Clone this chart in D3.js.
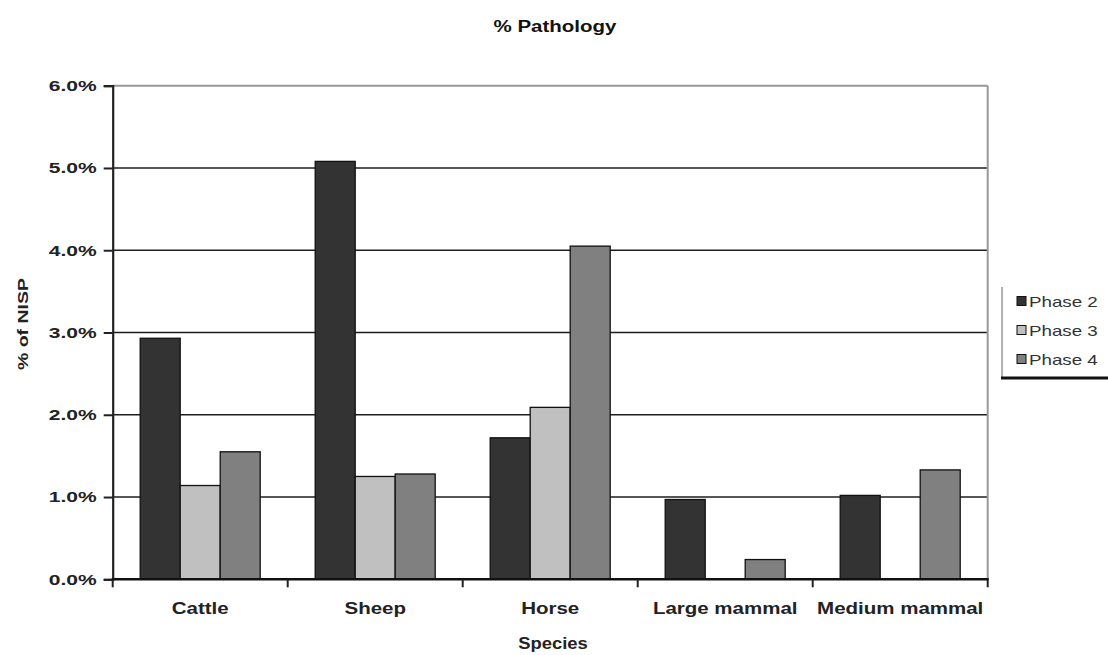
<!DOCTYPE html>
<html>
<head>
<meta charset="utf-8">
<script src="https://cdn.jsdelivr.net/npm/d3@7"></script>
<style>
  html, body { margin: 0; padding: 0; background: #fff; }
  svg { display: block; font-family: "Liberation Sans", Arial, sans-serif; }
</style>
</head>
<body>
<svg id="chart" width="1108" height="655"></svg>
<script>
// Percentage of NISP showing pathology, by species and phase
const categories = ["Cattle", "Sheep", "Horse", "Large mammal", "Medium mammal"];
const seriesNames = ["Phase 2", "Phase 3", "Phase 4"];
const phase2 = [2.93, 5.08, 1.72, 0.97, 1.02];
const phase3 = [1.14, 1.25, 2.09, null, null];
const phase4 = [1.55, 1.28, 4.05, 0.24, 1.33];
const yTicks = [0, 1, 2, 3, 4, 5, 6];
const yTickLabels = ["0.0%", "1.0%", "2.0%", "3.0%", "4.0%", "5.0%", "6.0%"];
const seriesColors = ["#333333", "#c0c0c0", "#808080"];

const seriesValues = [phase2, phase3, phase4];

const svg = d3.select("#chart");
const plot = { left: 112.7, right: 987.7, top: 85.7, bottom: 579.3 };

// Widen a text element horizontally by a factor, keeping its anchor
function stretch(sel, factor) {
  sel.each(function () {
    const w = this.getComputedTextLength();
    if (w > 0) {
      d3.select(this)
        .attr("textLength", w * factor)
        .attr("lengthAdjust", "spacingAndGlyphs");
    }
  });
}

const gapRatio = 55 / 175;
const x0 = d3.scaleBand()
  .domain(categories)
  .range([plot.left, plot.right])
  .paddingInner(gapRatio)
  .paddingOuter(gapRatio / 2);

const x1 = d3.scaleBand()
  .domain(seriesNames)
  .range([0, x0.bandwidth()]);

const y = d3.scaleLinear()
  .domain([0, 6])
  .range([plot.bottom, plot.top]);

// Horizontal gridlines
const grid = svg.append("g").attr("class", "grid");
grid.selectAll("line")
  .data(yTicks.filter(t => t > 0 && t < 6))
  .join("line")
  .attr("x1", plot.left).attr("x2", plot.right)
  .attr("y1", d => y(d)).attr("y2", d => y(d))
  .attr("stroke", "#1e1e1e").attr("stroke-width", 1.6);

// Plot area border (top and right)
svg.append("line")
  .attr("x1", plot.left).attr("x2", plot.right)
  .attr("y1", y(6)).attr("y2", y(6))
  .attr("stroke", "#999").attr("stroke-width", 2);
svg.append("line")
  .attr("x1", plot.right).attr("x2", plot.right)
  .attr("y1", y(6)).attr("y2", plot.bottom)
  .attr("stroke", "#999").attr("stroke-width", 2);

// Bars
const rows = categories.map((c, i) => ({
  category: c,
  values: seriesNames.map((s, j) => ({ series: s, idx: j, value: seriesValues[j][i] }))
}));

const groups = svg.append("g").attr("class", "bars")
  .selectAll("g")
  .data(rows)
  .join("g")
  .attr("transform", d => `translate(${x0(d.category)},0)`);

groups.selectAll("rect")
  .data(d => d.values.filter(v => v.value !== null))
  .join("rect")
  .attr("x", d => x1(d.series))
  .attr("width", x1.bandwidth())
  .attr("y", d => y(d.value))
  .attr("height", d => y(0) - y(d.value))
  .attr("fill", d => seriesColors[d.idx])
  .attr("stroke", "#111")
  .attr("stroke-width", 1.3);

// Y axis
const yAxis = svg.append("g")
  .attr("transform", `translate(${plot.left},0)`)
  .call(d3.axisLeft(y)
    .tickValues(yTicks)
    .tickFormat((d, i) => yTickLabels[i])
    .tickSize(9)
    .tickPadding(7));
yAxis.select(".domain").attr("stroke", "#222").attr("stroke-width", 2.2);
yAxis.selectAll(".tick line").attr("stroke", "#222").attr("stroke-width", 2);
yAxis.selectAll(".tick text")
  .attr("font-size", 15).attr("font-weight", "bold").attr("fill", "#222")
  .call(stretch, 1.4);

// X axis: baseline, boundary ticks, centred labels
svg.append("line")
  .attr("x1", plot.left - 1).attr("x2", plot.right + 1)
  .attr("y1", plot.bottom).attr("y2", plot.bottom)
  .attr("stroke", "#111").attr("stroke-width", 2.4);

const gap = x0.step() * gapRatio;
const boundaries = categories.map(c => x0(c) - gap / 2).concat([plot.right]);
svg.append("g").selectAll("line")
  .data(boundaries)
  .join("line")
  .attr("x1", d => d).attr("x2", d => d)
  .attr("y1", plot.bottom).attr("y2", plot.bottom + 8)
  .attr("stroke", "#222").attr("stroke-width", 2);

svg.append("g").selectAll("text")
  .data(categories)
  .join("text")
  .attr("x", d => x0(d) + x0.bandwidth() / 2)
  .attr("y", 614)
  .attr("text-anchor", "middle")
  .attr("font-size", 16).attr("font-weight", "bold").attr("fill", "#222")
  .text(d => d)
  .call(stretch, 1.28);

// Titles
svg.append("text")
  .attr("x", 555).attr("y", 32)
  .attr("text-anchor", "middle")
  .attr("font-size", 16).attr("font-weight", "bold").attr("fill", "#111")
  .text("% Pathology")
  .call(stretch, 1.28);

svg.append("text")
  .attr("x", 553).attr("y", 649)
  .attr("text-anchor", "middle")
  .attr("font-size", 16).attr("font-weight", "bold").attr("fill", "#222")
  .text("Species")
  .call(stretch, 1.15);

svg.append("text")
  .attr("transform", "translate(28,324) rotate(-90)")
  .attr("text-anchor", "middle")
  .attr("font-size", 15).attr("font-weight", "bold").attr("fill", "#222")
  .text("% of NISP")
  .call(stretch, 1.3);

// Legend
const legend = svg.append("g").attr("class", "legend");
legend.append("line")
  .attr("x1", 1002).attr("x2", 1002).attr("y1", 287).attr("y2", 378)
  .attr("stroke", "#999").attr("stroke-width", 1.5);
legend.append("line")
  .attr("x1", 1001).attr("x2", 1108).attr("y1", 378).attr("y2", 378)
  .attr("stroke", "#111").attr("stroke-width", 3);

const items = legend.selectAll("g.item")
  .data(seriesNames)
  .join("g")
  .attr("class", "item")
  .attr("transform", (d, i) => `translate(1017,${301 + i * 29})`);
items.append("rect")
  .attr("x", 0).attr("y", -4.5).attr("width", 9).attr("height", 9)
  .attr("fill", (d, i) => seriesColors[i])
  .attr("stroke", "#111").attr("stroke-width", 1);
items.append("text")
  .attr("x", 12).attr("y", 5.5)
  .attr("font-size", 15).attr("fill", "#333")
  .text(d => d)
  .call(stretch, 1.25);
</script>
</body>
</html>
